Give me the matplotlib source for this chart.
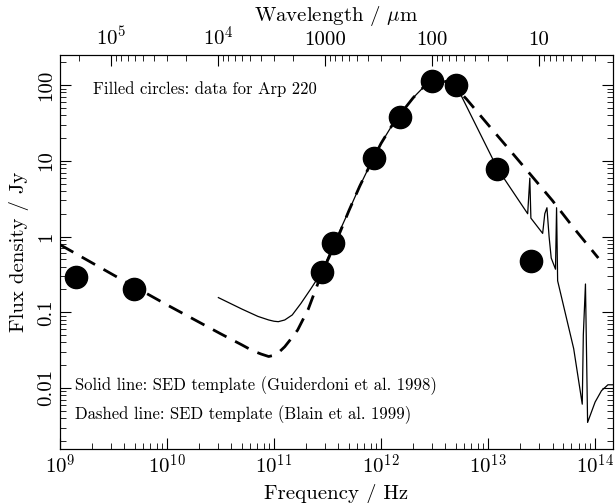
import numpy as np
import matplotlib
matplotlib.use("Agg")
import matplotlib.pyplot as plt
from matplotlib.ticker import FixedLocator, FixedFormatter, NullFormatter

plt.rcParams['font.family'] = ['cmr10', 'DejaVu Serif']
plt.rcParams['mathtext.fontset'] = 'cm'
plt.rcParams['axes.unicode_minus'] = False
plt.rcParams['axes.formatter.use_mathtext'] = True

# Arp 220 data points (frequency Hz, flux Jy)
data_freq = [1.4e9, 4.9e9, 2.78e11, 3.53e11, 8.57e11, 1.5e12, 3.0e12, 5.0e12, 1.2e13, 2.5e13]
data_flux = [0.29, 0.20, 0.34, 0.83, 11.0, 38.0, 113.0, 100.0, 7.8, 0.48]

# Dashed template (Blain et al. 1999): log10 frequency, flux Jy
dashed_logfreq = [9.0, 9.5, 10.0, 10.5, 10.7, 10.8, 10.88, 10.95, 11.0, 11.05, 11.1, 11.15,
                  11.22, 11.32, 11.41, 11.5, 11.6, 11.7, 11.8, 11.9, 12.0, 12.1, 12.2, 12.3,
                  12.4, 12.5, 12.6, 12.7, 12.8, 13.0, 13.2, 13.4, 13.6, 13.8, 14.03]
dashed_flux = [0.78, 0.31, 0.125, 0.052, 0.037, 0.031, 0.028, 0.026, 0.027, 0.03, 0.035, 0.043,
               0.058, 0.11, 0.24, 0.48, 1.0, 2.2, 4.6, 9.0, 17.0, 29.0, 45.0, 68.0,
               95.0, 113.0, 112.0, 92.0, 65.0, 30.0, 14.0, 6.5, 3.0, 1.3, 0.52]

# Solid template (Guiderdoni et al. 1998): log10 frequency, flux Jy
solid_logfreq = [10.48, 10.7, 10.85, 10.95, 11.0, 11.04, 11.1, 11.17, 11.25, 11.34, 11.44,
                 11.55, 11.7, 11.8, 11.9, 12.0, 12.1, 12.2, 12.3, 12.4, 12.5, 12.6, 12.7,
                 13.09, 13.37, 13.39, 13.40, 13.51, 13.53, 13.55, 13.57, 13.59, 13.63, 13.64,
                 13.65, 13.80, 13.88, 13.89, 13.91, 13.93, 14.0, 14.06, 14.12, 14.17]
solid_flux = [0.156, 0.11, 0.088, 0.079, 0.076, 0.075, 0.079, 0.092, 0.13, 0.2, 0.33,
              0.75, 2.2, 4.6, 9.0, 17.0, 29.0, 45.0, 68.0, 95.0, 113.0, 110.0, 100.0,
              7.8, 2.0, 5.9, 1.75, 1.1, 2.0, 2.4, 1.0, 0.52, 0.37, 2.4,
              0.26, 0.033, 0.0061, 0.05, 0.236, 0.0035, 0.0065, 0.0092, 0.011, 0.011]

ytick_vals = [0.01, 0.1, 1, 10, 100]
ytick_labels = ['0.01', '0.1', '1', '10', '100']
xtick_vals = [1e9, 1e10, 1e11, 1e12, 1e13, 1e14]
xtick_labels = ['$10^{9}$', '$10^{10}$', '$10^{11}$', '$10^{12}$', '$10^{13}$', '$10^{14}$']
wave_vals = [1e5, 1e4, 1000, 100, 10]
wave_labels = ['$10^{5}$', '$10^{4}$', '1000', '100', '10']

C_UM = 3e14  # speed of light in micron/s

fig = plt.figure(figsize=(6.15, 5.03), dpi=100)
ax = fig.add_axes([60/615, 54/503, 553/615, 394/503])

ax.plot(10**np.array(dashed_logfreq), dashed_flux, color='black', lw=2.0,
        dashes=(5.5, 3.5), zorder=2)
ax.plot(10**np.array(solid_logfreq), solid_flux, color='black', lw=0.9, zorder=2)
ax.plot(data_freq, data_flux, 'o', color='black', ms=16, zorder=3)

ax.set_xscale('log')
ax.set_yscale('log')
ax.set_xlim(1e9, 1.47e14)
ax.set_ylim(0.00156, 250)

ax.xaxis.set_major_locator(FixedLocator(xtick_vals))
ax.xaxis.set_major_formatter(FixedFormatter(xtick_labels))
ax.yaxis.set_major_locator(FixedLocator(ytick_vals))
ax.yaxis.set_major_formatter(FixedFormatter(ytick_labels))
ax.xaxis.set_minor_formatter(NullFormatter())
ax.yaxis.set_minor_formatter(NullFormatter())

ax.tick_params(which='both', direction='in', top=False, right=True)
ax.tick_params(which='major', length=8, width=0.8, labelsize=15)
ax.tick_params(which='minor', length=4, width=0.6)
ax.tick_params(axis='y', which='major', labelrotation=90)
for lbl in ax.get_yticklabels():
    lbl.set_va('center')

ax.set_xlabel('Frequency / Hz', fontsize=15, labelpad=4)
ax.set_ylabel('Flux density / Jy', fontsize=15, labelpad=6)

# Top wavelength axis
ax2 = ax.twiny()
ax2.set_xscale('log')
ax2.set_xlim(ax.get_xlim())
ax2.xaxis.set_major_locator(FixedLocator([C_UM / w for w in wave_vals]))
ax2.xaxis.set_major_formatter(FixedFormatter(wave_labels))
minor_w = [k * 10.0**n for n in range(0, 6) for k in range(2, 10)]
ax2.xaxis.set_minor_locator(FixedLocator([C_UM / w for w in minor_w]))
ax2.xaxis.set_minor_formatter(NullFormatter())
ax2.tick_params(which='both', direction='in')
ax2.tick_params(which='major', length=8, width=0.8, labelsize=15, pad=4)
ax2.tick_params(which='minor', length=4, width=0.6)
ax2.set_xlabel('Wavelength / $\\mu$m', fontsize=15, labelpad=3)

for a in (ax, ax2):
    for s in a.spines.values():
        s.set_linewidth(0.8)

ax.text(0.06, 0.914, 'Filled circles: data for Arp 220', transform=ax.transAxes,
        fontsize=12, va='center', ha='left')
ax.text(0.027, 0.16, 'Solid line: SED template (Guiderdoni et al. 1998)',
        transform=ax.transAxes, fontsize=12, va='center', ha='left')
ax.text(0.027, 0.088, 'Dashed line: SED template (Blain et al. 1999)',
        transform=ax.transAxes, fontsize=12, va='center', ha='left')

fig.savefig('out.png', dpi=100)
